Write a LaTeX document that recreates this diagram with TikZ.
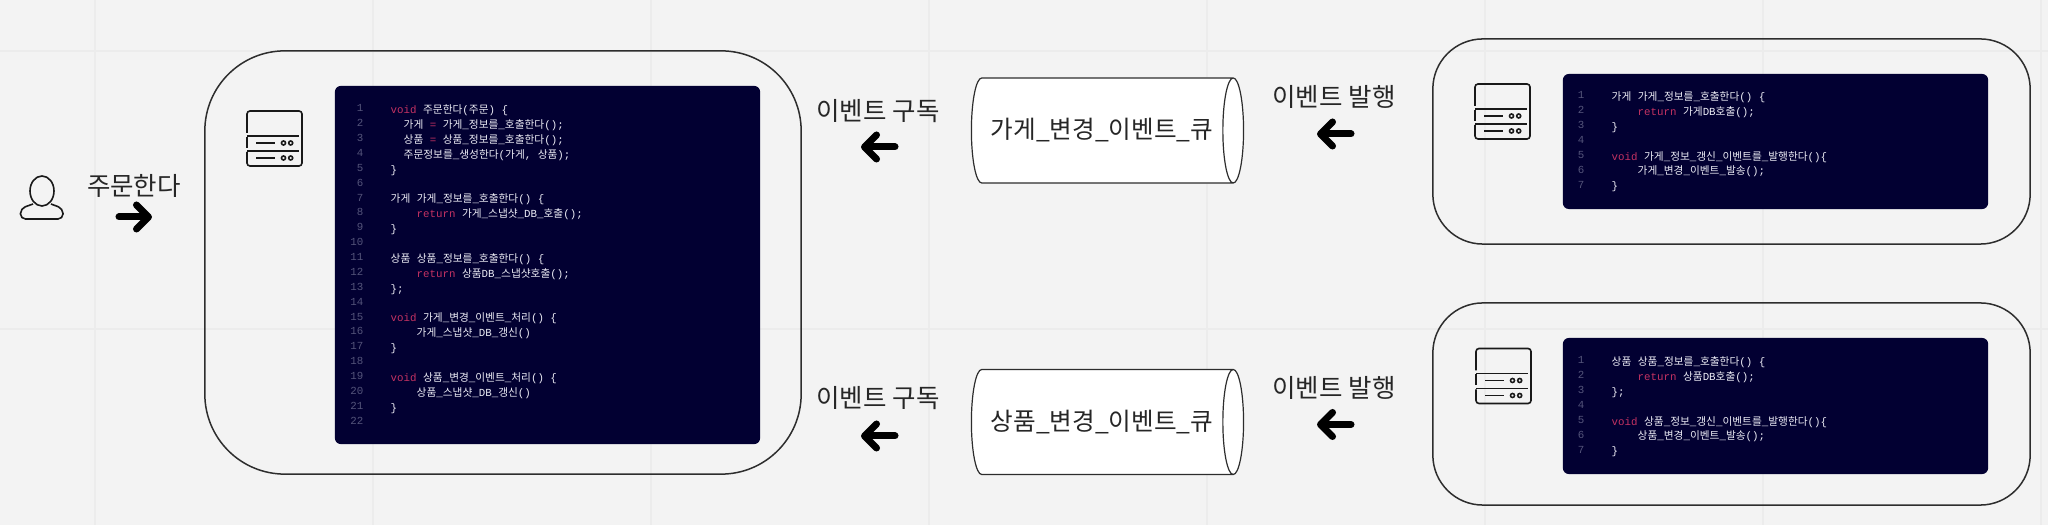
\documentclass[tikz,border=0pt]{standalone}
\usepackage{fontspec}
\usepackage{xcolor}
\usetikzlibrary{arrows.meta, shapes.geometric}
\setmainfont{Noto Sans CJK KR}
\definecolor{paper}{RGB}{243,243,243}
\definecolor{gridgray}{RGB}{236,236,236}
\definecolor{inkline}{RGB}{45,45,45}
\definecolor{deepnavy}{RGB}{2,0,50}
\definecolor{codewhite}{RGB}{236,236,245}
\definecolor{keypink}{RGB}{196,50,98}
\definecolor{numgray}{RGB}{84,84,122}
% code fonts: hangul and latin are switched by character class
\font\krcode="Noto Sans CJK KR" at 3.04pt
\font\monocode="Liberation Mono" at 3.07pt
\newXeTeXintercharclass\hangulclass
\count255="AC00
\loop\XeTeXcharclass\count255=\hangulclass\ifnum\count255<"D7A3 \advance\count255 by 1 \repeat
\XeTeXinterchartoks 0 \hangulclass={\krcode}
\XeTeXinterchartoks 4095 \hangulclass={\krcode}
\XeTeXinterchartoks \hangulclass 0={\monocode}
\XeTeXinterchartoks \hangulclass 4095={\monocode}
\newcommand{\codefont}{\fontsize{3}{4.23}\selectfont\monocode\XeTeXinterchartokenstate=1 }
\newcommand{\kw}[1]{\textcolor{keypink}{#1}}
\newcommand{\ind}[1]{\hspace*{#1cm}}

\begin{document}
\begin{tikzpicture}[
  x=.01cm, y=-.01cm,
  >={Straight Barb[round, length=1.2mm, width=2.4mm]},
  hostbox/.style={rectangle, draw=inkline, line width=.015cm, inner sep=0pt},
  codepanel/.style={rectangle, fill=deepnavy, rounded corners=.06cm, inner sep=0pt},
  codetext/.style={anchor=north west, inner sep=0pt, align=left, text=codewhite, font=\codefont},
  linenum/.style={anchor=north east, inner sep=0pt, align=right, text=numgray, font=\codefont},
  queue/.style={cylinder, draw=inkline, line width=.012cm, fill=white, cylinder uses custom fill,
    cylinder body fill=white, cylinder end fill=white, shape aspect=.87, minimum width=1.05cm,
    minimum height=2.72cm, inner sep=0pt, font=\fontsize{7}{8.5}\selectfont, text=black!85},
  caption/.style={inner sep=0pt, font=\fontsize{7.25}{8.5}\selectfont, text=black!85},
  flowarrow/.style={->, line width=.07cm, line cap=round, black},
  iconline/.style={draw=black!90, line width=.016cm},
  server/.pic={
    \draw[iconline, rounded corners=.03cm] (0,22) -- (0,0) -- (55,0) -- (55,55) -- (0,55) -- (0,41);
    \draw[iconline] (0,26) -- (0,37);
    \draw[iconline] (0,25) -- (52,25);
    \draw[iconline] (0,40) -- (52,40);
    \foreach \rowy in {32,47} {
      \draw[iconline] (9,\rowy) -- (28,\rowy);
      \draw[iconline] (36.5,\rowy) circle[radius=2];
      \draw[iconline] (43.7,\rowy) circle[radius=2];
    }
  }
]
\useasboundingbox (0,0) rectangle (2048,525);
\fill[paper] (0,0) rectangle (2048,525);
% background grid
\foreach \gx in {95,373,651,929,1207,1485,1763,2041}
  \draw[gridgray, line width=.012cm] (\gx,0) -- (\gx,525);
\foreach \gy in {51,329}
  \draw[gridgray, line width=.012cm] (0,\gy) -- (2048,\gy);

% customer
\draw[iconline] (42,191) ellipse[x radius=12, y radius=15];
\draw[iconline, rounded corners=.05cm] (33,204) -- (20.5,208.5) -- (20.5,219) -- (63,219) -- (63,208.5) -- (51,204);
\node[caption] (ordertext) at (134,186) {주문한다};
\coordinate (orderfrom) at (119,217);
\coordinate (orderto) at (152,217);
\draw[flowarrow] (orderfrom) -- (orderto);

% order service
\node[hostbox, rounded corners=.8cm, minimum width=5.96cm, minimum height=4.23cm] (orderhost) at (503,262.5) {};
\pic at (247,111) {server};
\node[codepanel, minimum width=4.25cm, minimum height=3.58cm] (orderpanel) at (547.5,265) {};
\node[linenum] (ordernums) at (364,104) {1\\2\\3\\4\\5\\6\\7\\8\\9\\10\\11\\12\\13\\14\\15\\16\\17\\18\\19\\20\\21\\22};
\node[codetext] (ordercode) at (390,104) {%
  \kw{void} 주문한다(주문) \{\\
  \ind{.13}가게 \kw{=} 가게\_정보를\_호출한다();\\
  \ind{.13}상품 \kw{=} 상품\_정보를\_호출한다();\\
  \ind{.13}주문정보를\_생성한다(가게, 상품);\\
  \}\\
  \mbox{}\\
  가게 가게\_정보를\_호출한다() \{\\
  \ind{.26}\kw{return} 가게\_스냅샷\_DB\_호출();\\
  \}\\
  \mbox{}\\
  상품 상품\_정보를\_호출한다() \{\\
  \ind{.26}\kw{return} 상품DB\_스냅샷호출();\\
  \};\\
  \mbox{}\\
  \kw{void} 가게\_변경\_이벤트\_처리() \{\\
  \ind{.26}가게\_스냅샷\_DB\_갱신()\\
  \}\\
  \mbox{}\\
  \kw{void} 상품\_변경\_이벤트\_처리() \{\\
  \ind{.26}상품\_스냅샷\_DB\_갱신()\\
  \}\\
  \mbox{}};

% store queue
\node[caption] (storesub) at (878,111) {이벤트 구독};
\coordinate (storesubfrom) at (895,147);
\coordinate (storesubto) at (861,147);
\draw[flowarrow] (storesubfrom) -- (storesubto);
\node[queue] (storequeue) at (1102,130.5) {가게\_변경\_이벤트\_큐};
\node[caption] (storepub) at (1334,97) {이벤트 발행};
\coordinate (storepubfrom) at (1351,134);
\coordinate (storepubto) at (1317,134);
\draw[flowarrow] (storepubfrom) -- (storepubto);

% product queue
\node[caption] (productsub) at (878,398) {이벤트 구독};
\coordinate (productsubfrom) at (895,436);
\coordinate (productsubto) at (861,436);
\draw[flowarrow] (productsubfrom) -- (productsubto);
\node[queue] (productqueue) at (1102,422) {상품\_변경\_이벤트\_큐};
\node[caption] (productpub) at (1334,388) {이벤트 발행};
\coordinate (productpubfrom) at (1351,424.5);
\coordinate (productpubto) at (1317,424.5);
\draw[flowarrow] (productpubfrom) -- (productpubto);

% store service
\node[hostbox, rounded corners=.5cm, minimum width=5.97cm, minimum height=2.05cm] (storehost) at (1731.5,141.5) {};
\pic at (1475,84) {server};
\node[codepanel, minimum width=4.25cm, minimum height=1.35cm] (storepanel) at (1775.5,141.5) {};
\node[linenum] (storenums) at (1585,91) {1\\2\\3\\4\\5\\6\\7};
\node[codetext] (storecode) at (1611,91) {%
  가게 가게\_정보를\_호출한다() \{\\
  \ind{.26}\kw{return} 가게DB호출();\\
  \}\\
  \mbox{}\\
  \kw{void} 가게\_정보\_갱신\_이벤트를\_발행한다()\{\\
  \ind{.26}가게\_변경\_이벤트\_발송();\\
  \}};

% product service
\node[hostbox, rounded corners=.5cm, minimum width=5.97cm, minimum height=2.02cm] (producthost) at (1731.5,404) {};
\pic at (1476,348.5) {server};
\node[codepanel, minimum width=4.25cm, minimum height=1.36cm] (productpanel) at (1775.5,406) {};
\node[linenum] (productnums) at (1585,356) {1\\2\\3\\4\\5\\6\\7};
\node[codetext] (productcode) at (1611,356) {%
  상품 상품\_정보를\_호출한다() \{\\
  \ind{.26}\kw{return} 상품DB호출();\\
  \};\\
  \mbox{}\\
  \kw{void} 상품\_정보\_갱신\_이벤트를\_발행한다()\{\\
  \ind{.26}상품\_변경\_이벤트\_발송();\\
  \}};
\end{tikzpicture}
\end{document}
